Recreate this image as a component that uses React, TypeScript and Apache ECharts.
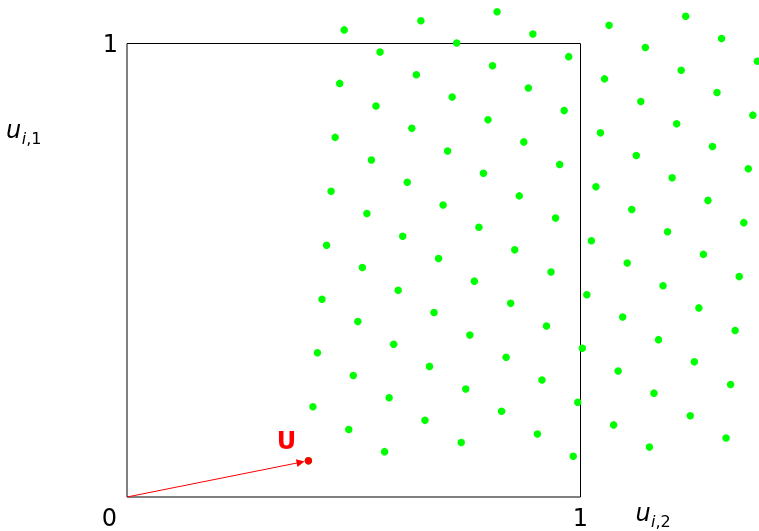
import React, { useEffect, useRef } from "react";
import * as echarts from "echarts";

// Shifted lattice points (horizontal coordinate u_{i,2}, vertical coordinate u_{i,1})
const pointU2: number[] = [
  0.400, 0.410, 0.420, 0.430, 0.440, 0.450, 0.459, 0.469, 0.479, 0.489,
  0.499, 0.509, 0.519, 0.529, 0.539, 0.549, 0.558, 0.568, 0.578, 0.588,
  0.598, 0.608, 0.618, 0.628, 0.638, 0.648, 0.657, 0.667, 0.677, 0.687,
  0.697, 0.707, 0.717, 0.727, 0.737, 0.747, 0.756, 0.766, 0.776, 0.786,
  0.796, 0.806, 0.816, 0.826, 0.836, 0.846, 0.855, 0.865, 0.875, 0.885,
  0.895, 0.905, 0.915, 0.925, 0.935, 0.945, 0.954, 0.964, 0.974, 0.984,
  0.994, 1.004, 1.014, 1.024, 1.034, 1.044, 1.053, 1.063, 1.073, 1.083,
  1.093, 1.103, 1.113, 1.123, 1.133, 1.143, 1.152, 1.162, 1.172, 1.182,
  1.192, 1.202, 1.212, 1.222, 1.232, 1.242, 1.251, 1.261, 1.271, 1.281,
  1.291, 1.301, 1.311, 1.321, 1.331, 1.341, 1.350, 1.360, 1.370, 1.380,
  1.390,
];
const pointU1: number[] = [
  0.080, 0.199, 0.318, 0.436, 0.555, 0.674, 0.793, 0.912, 1.030, 0.149,
  0.268, 0.387, 0.506, 0.625, 0.743, 0.862, 0.981, 0.100, 0.219, 0.337,
  0.456, 0.575, 0.694, 0.813, 0.931, 1.050, 0.169, 0.288, 0.407, 0.526,
  0.644, 0.763, 0.882, 1.001, 0.120, 0.238, 0.357, 0.476, 0.595, 0.714,
  0.832, 0.951, 1.070, 0.189, 0.308, 0.427, 0.545, 0.664, 0.783, 0.902,
  1.021, 0.139, 0.258, 0.377, 0.496, 0.615, 0.733, 0.852, 0.971, 0.090,
  0.209, 0.328, 0.446, 0.565, 0.684, 0.803, 0.922, 1.040, 0.159, 0.278,
  0.397, 0.516, 0.634, 0.753, 0.872, 0.991, 0.110, 0.229, 0.347, 0.466,
  0.585, 0.704, 0.823, 0.941, 1.060, 0.179, 0.298, 0.417, 0.535, 0.654,
  0.773, 0.892, 1.011, 0.130, 0.248, 0.367, 0.486, 0.605, 0.724, 0.842,
  0.961,
];
// Random shift vector U = (u2, u1)
const shiftU: number[] = [0.4, 0.08];
const shiftLabel = "U";
const originLabel = "0";
const unitLabel = "1";

const FONT = "DejaVu Sans";

export default function App() {
  const ref = useRef<HTMLDivElement>(null);

  useEffect(() => {
    if (!ref.current) return;
    const chart = echarts.init(ref.current, undefined, { renderer: "svg" });

    const points = pointU2.map((x, i) => [x, pointU1[i]]);
    const arrowScale = 0.957; // arrowhead centre sits just before the U dot
    const arrowEnd = [shiftU[0] * arrowScale, shiftU[1] * arrowScale];

    const axisCommon = {
      type: "value" as const,
      min: 0,
      max: 1,
      interval: 1,
      axisLine: { show: false },
      axisTick: { show: false },
      splitLine: { show: false },
    };

    chart.setOption({
      animation: false,
      grid: {
        left: 127,
        top: 43.5,
        width: 453.5,
        height: 453.5,
        show: true,
        borderColor: "#000",
        borderWidth: 1,
        backgroundColor: "transparent",
      },
      xAxis: {
        ...axisCommon,
        axisLabel: {
          show: true,
          margin: 9,
          fontSize: 24,
          fontFamily: FONT,
          color: "#000",
          formatter: (v: number) => (v === 1 ? unitLabel : ""),
        },
      },
      yAxis: {
        ...axisCommon,
        axisLabel: {
          show: true,
          margin: 9,
          fontSize: 24,
          fontFamily: FONT,
          color: "#000",
          formatter: (v: number) => (v === 1 ? unitLabel : ""),
        },
      },
      series: [
        {
          type: "scatter",
          data: points,
          symbol: "circle",
          symbolSize: 7.5,
          clip: false,
          itemStyle: { color: "#00ff00", opacity: 1 },
          z: 2,
        },
        {
          type: "lines",
          coordinateSystem: "cartesian2d",
          data: [{ coords: [[0, 0], arrowEnd] }],
          symbol: ["none", "path://M5,0 L10,12 L0,12 Z"],
          symbolSize: 8,
          lineStyle: { color: "#ff0000", width: 1, opacity: 1 },
          itemStyle: { color: "#ff0000", opacity: 1 },
          z: 3,
        },
        {
          type: "scatter",
          data: [shiftU],
          symbol: "circle",
          symbolSize: 7.5,
          clip: false,
          itemStyle: { color: "#ff0000", opacity: 1 },
          label: {
            show: true,
            position: "inside",
            offset: [-22, -20],
            formatter: shiftLabel,
            color: "#ff0000",
            fontWeight: "bold",
            fontSize: 24,
            fontFamily: FONT,
          },
          z: 4,
        },
      ],
      graphic: [
        {
          type: "text",
          x: 109.3,
          y: 518,
          style: {
            text: originLabel,
            fontSize: 24,
            fontFamily: FONT,
            fill: "#000",
            align: "center",
            verticalAlign: "middle",
          },
        },
        {
          type: "text",
          x: 6,
          y: 138 - 8.3,
          style: {
            text: "u",
            fontSize: 24,
            fontStyle: "italic",
            fontFamily: FONT,
            fill: "#000",
            align: "left",
            verticalAlign: "middle",
          },
        },
        {
          type: "text",
          x: 21.8,
          y: 144 - 5.5,
          style: {
            text: "{i|i}{n|,1}",
            fontFamily: FONT,
            fill: "#000",
            align: "left",
            verticalAlign: "middle",
            rich: {
              i: { fontSize: 16, fontStyle: "italic", fontFamily: FONT, fill: "#000" },
              n: { fontSize: 16, fontFamily: FONT, fill: "#000" },
            },
          },
        },
        {
          type: "text",
          x: 635.5,
          y: 521 - 8.3,
          style: {
            text: "u",
            fontSize: 24,
            fontStyle: "italic",
            fontFamily: FONT,
            fill: "#000",
            align: "left",
            verticalAlign: "middle",
          },
        },
        {
          type: "text",
          x: 651,
          y: 527 - 5.5,
          style: {
            text: "{i|i}{n|,2}",
            fontFamily: FONT,
            fill: "#000",
            align: "left",
            verticalAlign: "middle",
            rich: {
              i: { fontSize: 16, fontStyle: "italic", fontFamily: FONT, fill: "#000" },
              n: { fontSize: 16, fontFamily: FONT, fill: "#000" },
            },
          },
        },
      ],
    });

    return () => chart.dispose();
  }, []);

  return (
    <div
      ref={ref}
      style={{ position: "fixed", left: 0, top: 0, width: 759, height: 531 }}
    />
  );
}
